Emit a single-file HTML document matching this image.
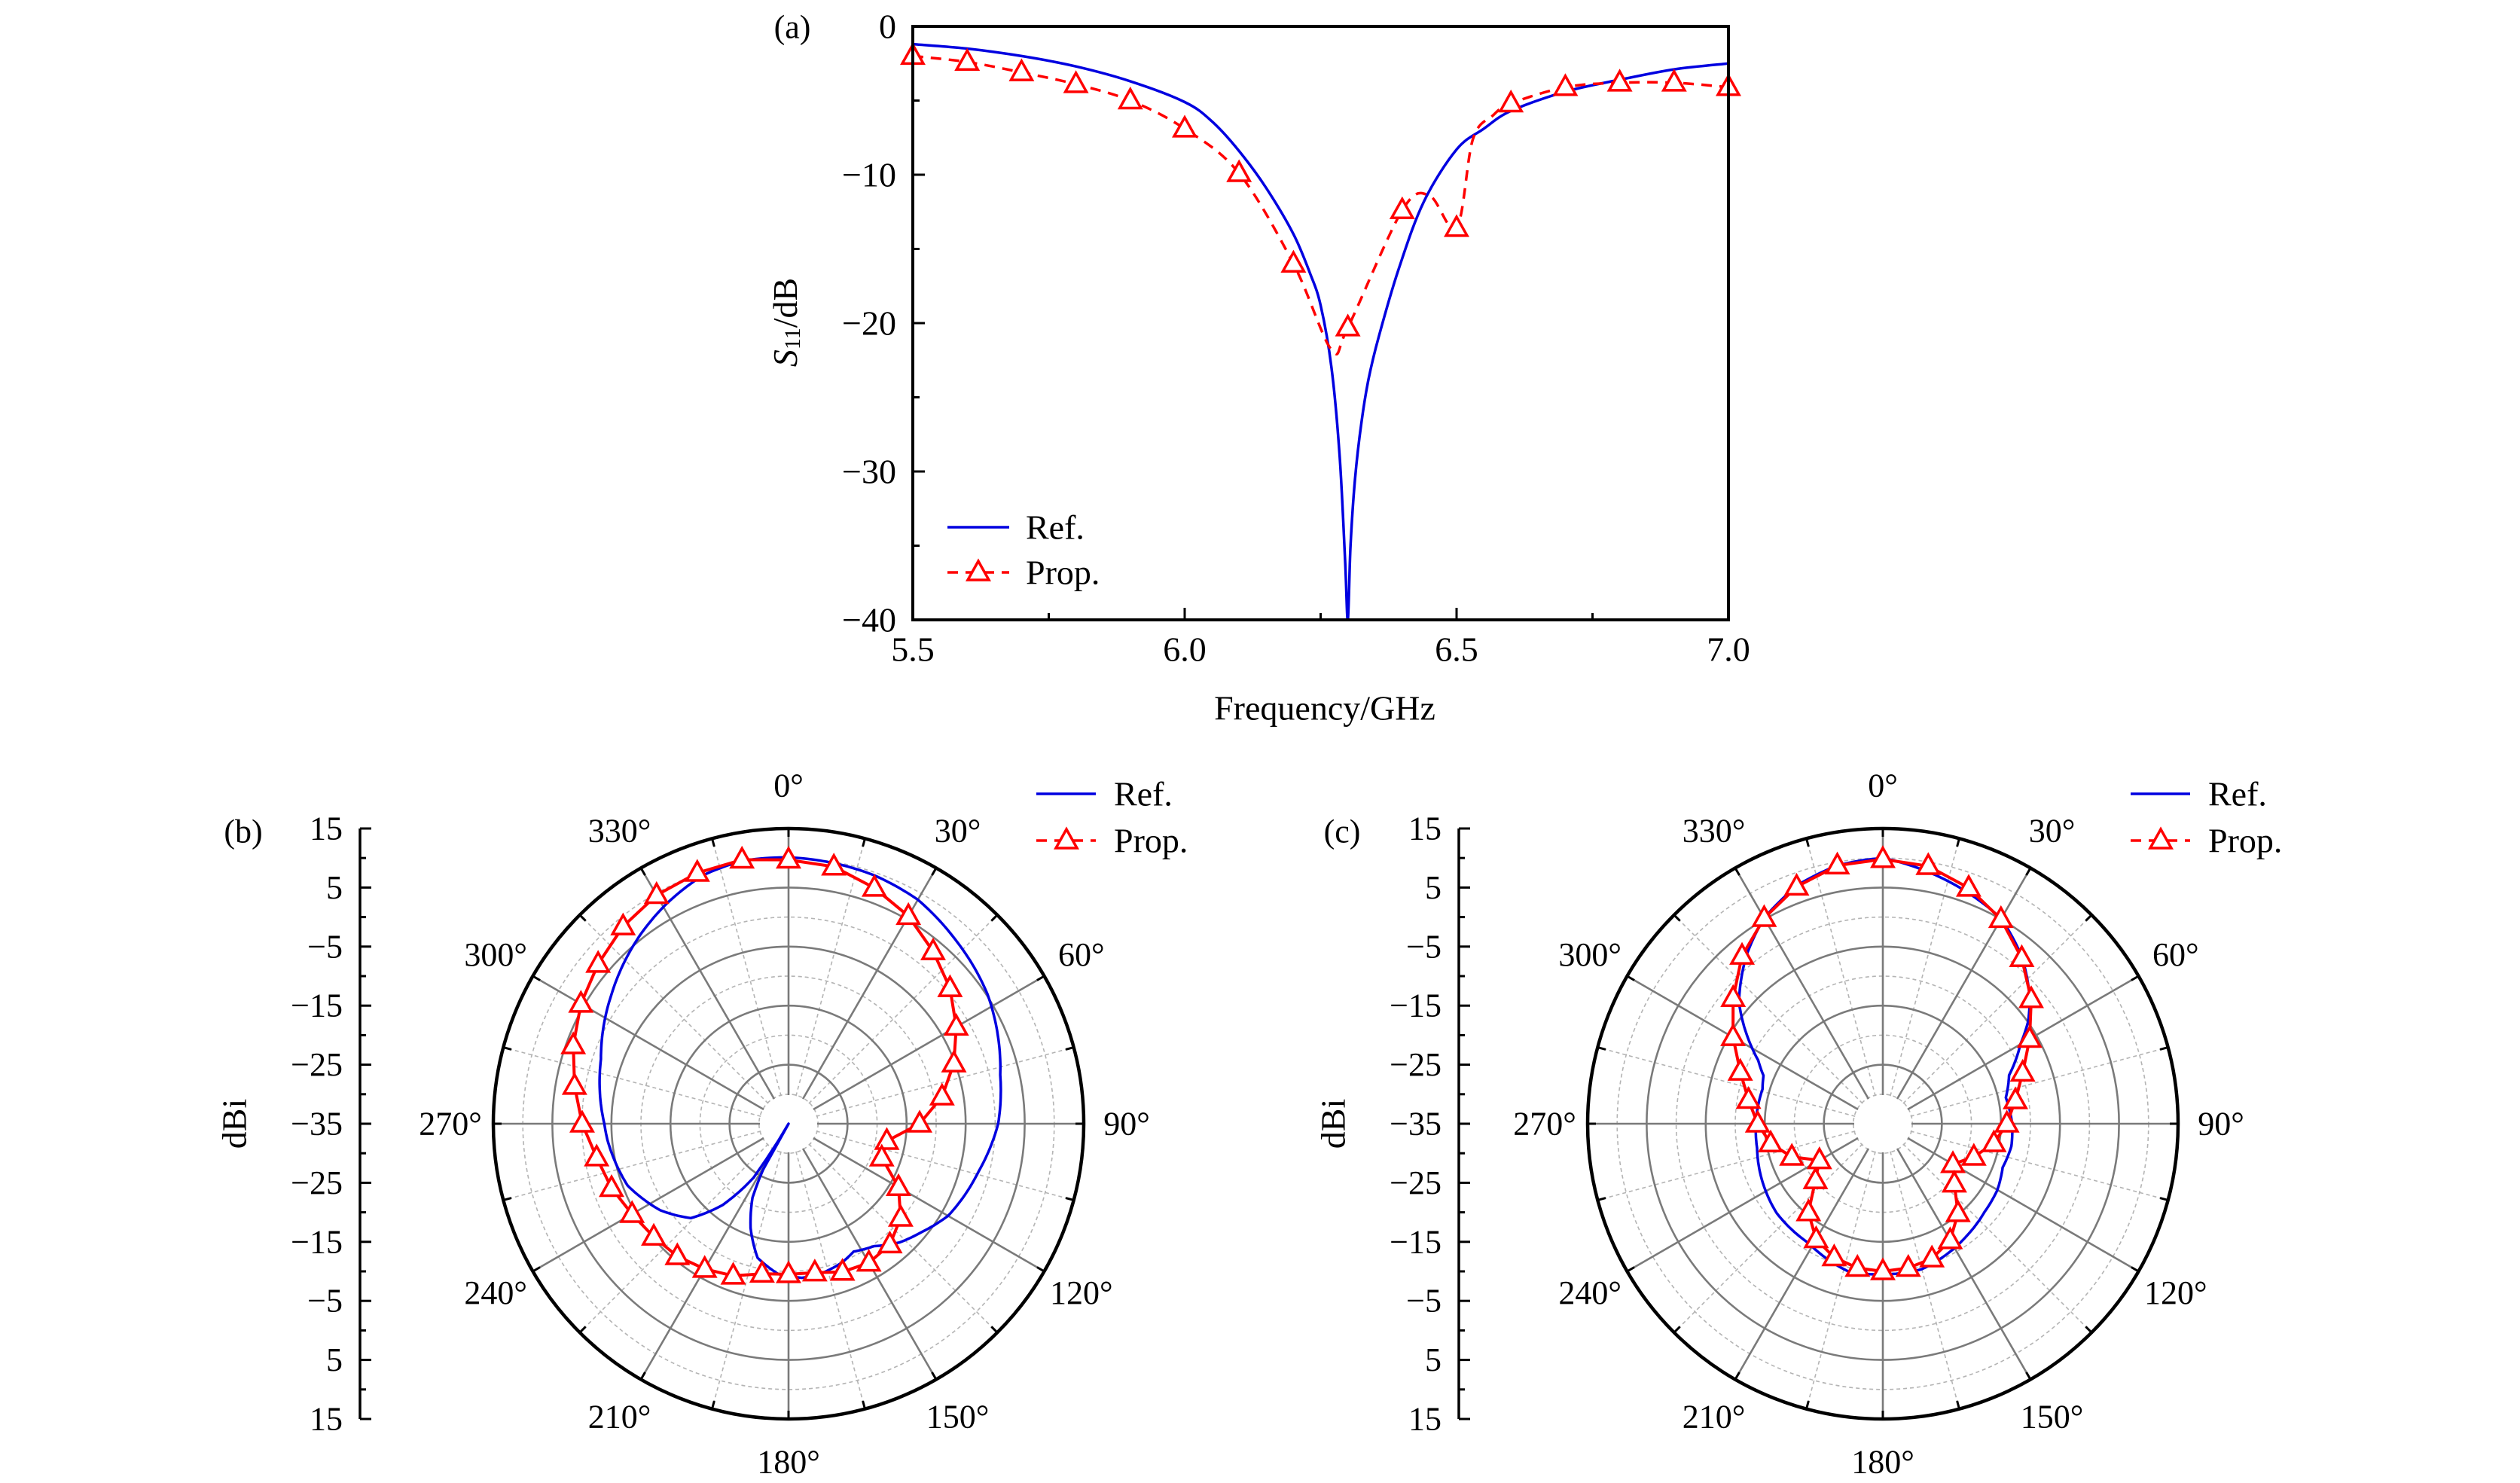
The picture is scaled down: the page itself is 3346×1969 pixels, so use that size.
<!DOCTYPE html>
<html><head><meta charset="utf-8"><style>
html,body{margin:0;padding:0;background:#fff;}
svg{display:block;font-family:"Liberation Serif",serif;}
</style></head><body>
<svg id="fig" width="3346" height="1969" viewBox="0 0 3346 1969" xmlns="http://www.w3.org/2000/svg"></svg>
<script>
// ---- Panel (a) data ----
const refFreq = [5.5,5.6,5.7,5.8,5.9,6.0,6.05,6.1,6.15,6.2,6.23,6.25,6.27,6.285,6.295,6.3,6.305,6.313,6.325,6.338,6.357,6.394,6.44,6.5,6.55,6.6,6.7,6.8,6.9,7.0];
const refS11 = [-1.2,-1.5,-2.0,-2.7,-3.7,-5.1,-6.4,-8.4,-10.9,-14.0,-16.6,-18.8,-23.0,-29,-36,-40,-35,-30.6,-26.7,-23.8,-20.9,-16.3,-11.8,-8.3,-6.9,-5.7,-4.4,-3.6,-2.9,-2.5];
const propLineFreq = [5.5,5.6,5.7,5.8,5.9,6.0,6.1,6.2,6.27,6.3,6.4,6.45,6.5,6.53,6.567,6.6,6.7,6.8,6.9,7.0];
const propLineS11 = [-2.0,-2.4,-3.1,-3.9,-5.0,-6.9,-9.9,-16.0,-21.8,-20.3,-12.4,-11.4,-13.6,-7.6,-6.0,-5.2,-4.1,-3.8,-3.8,-4.1];
const propMarkFreq = [5.5,5.6,5.7,5.8,5.9,6.0,6.1,6.2,6.3,6.4,6.5,6.6,6.7,6.8,6.9,7.0];
const propMarkS11 = [-2.0,-2.4,-3.1,-3.9,-5.0,-6.9,-9.9,-16.0,-20.3,-12.4,-13.6,-5.2,-4.1,-3.8,-3.8,-4.1];
const xTicks = [5.5,6.0,6.5,7.0];
const xTickLabels = ["5.5","6.0","6.5","7.0"];
const yTicks = [0,-10,-20,-30,-40];
const yTickLabels = ["0","\u221210","\u221220","\u221230","\u221240"];

// ---- Panel (b) data ----
const bRefAng = [0,19,30,42,57,77,90,104,120,129,137,145,153,159,167,175,184,193,200,206,209,210,212,213,219,226,236,249,265,270,289,306,322,331,341,350,360];
const bRefDb = [10.1,9.5,8.8,7.1,5.2,1.8,0.5,-1.8,-3.8,-5.9,-7.5,-9.7,-10.7,-9.8,-9.1,-8.8,-9.5,-11.7,-16.2,-21.1,-26.1,-35,-28,-24.1,-17.3,-12,-8.8,-5.8,-4.2,-3.8,-1.4,2.1,5.7,7.6,9.5,10.2,10.1];
const bPropAng = [0,10,20,30,40,50,60,70,80,90,100,110,120,130,140,150,160,170,180,190,200,210,220,230,240,250,260,270,280,290,300,310,320,330,340,350];
const bPropDb = [9.7,9.2,7.5,5.6,3.1,0.7,-2.2,-5.2,-8.6,-12.8,-18.1,-18.2,-13.5,-10.2,-8.3,-7.8,-8.3,-9.4,-9.5,-9.2,-7.6,-6.6,-5.7,-5.2,-4.4,-3.1,-2.0,-0.05,1.8,3.8,5.6,7.1,8.6,9.7,10.2,10.4];

// ---- Panel (c) data ----
const cRefAng = [0,30,40,50,55,60,69,78,90,100,110,120,131,143,150,165,180,193,212,230,248,259,270,286,292,297,302,310,321,330,341,350,360];
const cRefDb = [10.0,5.1,1.7,-2.5,-5,-8.1,-12.1,-13.7,-13.1,-12.9,-13.4,-12.6,-12.2,-11.3,-10.7,-9.5,-9.5,-9.3,-11.2,-11.5,-12.6,-13.3,-13.5,-13.8,-13.2,-11.3,-8.2,-3.2,1.7,5.2,8.0,9.4,10.0];
const cPropAng = [0,10,20,30,40,50,60,70,80,90,100,110,120,130,140,150,160,170,180,190,200,210,220,230,240,250,260,270,280,290,300,310,320,330,340,350];
const cPropDb = [9.8,9.3,7.5,5.0,1.6,-2.2,-6.3,-9.8,-12.2,-14.0,-15.9,-18.6,-21.3,-19.2,-15.2,-12.2,-10.7,-10.2,-10.0,-10.2,-10.9,-12.4,-15.4,-20.1,-22.6,-18.6,-15.7,-13.8,-11.9,-9.3,-5.7,-1.9,2.1,5.2,7.7,9.4];
const rTickLabels = ["15","5","\u22125","\u221215","\u221225","\u221235","\u221225","\u221215","\u22125","5","15"];
const angLabelVals = [0,30,60,90,120,150,180,210,240,270,300,330];

const NS = "http://www.w3.org/2000/svg";
const svg = document.getElementById('fig');
function el(tag, attrs, parent){ const e=document.createElementNS(NS,tag); for(const k in attrs) e.setAttribute(k,attrs[k]); (parent||svg).appendChild(e); return e; }
function txt(s, x, y, size, anchor, parent){ const t=el('text',{x:x,y:y,'font-size':size,'text-anchor':anchor||'middle','dominant-baseline':'central',fill:'#000'},parent); t.textContent=s; return t; }
function tri(x,y,parent){ return el('path',{d:`M${x},${y-15} L${x+14},${y+10} L${x-14},${y+10} Z`,fill:'#fff',stroke:'#f00','stroke-width':3.5,'stroke-linejoin':'miter'},parent); }
function smoothPath(p){
  let d=`M${p[0][0].toFixed(1)},${p[0][1].toFixed(1)}`;
  for(let i=0;i<p.length-1;i++){ const p0=p[Math.max(0,i-1)],p1=p[i],p2=p[i+1],p3=p[Math.min(p.length-1,i+2)];
    const c1=[p1[0]+(p2[0]-p0[0])/6,p1[1]+(p2[1]-p0[1])/6], c2=[p2[0]-(p3[0]-p1[0])/6,p2[1]-(p3[1]-p1[1])/6];
    d+=` C${c1[0].toFixed(1)},${c1[1].toFixed(1)} ${c2[0].toFixed(1)},${c2[1].toFixed(1)} ${p2[0].toFixed(1)},${p2[1].toFixed(1)}`; }
  return d; }

// ================= Panel (a) =================
const A = {l:1212,r:2295,t:35,b:823};
const ax = f => A.l + (f-5.5)/1.5*(A.r-A.l);
const ay = v => A.t + (-v)/40*(A.b-A.t);
const ga = el('g',{});


el('defs',{}).innerHTML='<clipPath id="clipA"><rect x="1212" y="35" width="1083" height="788"/></clipPath>';
for(let i=0;i<=6;i++){ const f=5.5+i*0.25; const x=ax(f); const len=(i%2===0)?16:9;
  const t=el('line',{x1:x,y1:A.b,x2:x,y2:A.b-len,stroke:'#000','stroke-width':3},ga);
    }
for(let i=0;i<=8;i++){ const v=-i*5; const y=ay(v); const len=(i%2===0)?16:9;
  const t=el('line',{x1:A.l,y1:y,x2:A.l+len,y2:y,stroke:'#000','stroke-width':3},ga);
    }
xTicks.forEach((f,i)=>{ const t=txt(xTickLabels[i], ax(f), 862, 46,'middle',ga);
    });
yTicks.forEach((v,i)=>{ const t=txt(yTickLabels[i], 1190, ay(v), 46,'end',ga);
    });
const gClip = el('g',{'clip-path':'url(#clipA)'},ga);
const refPath = el('path',{d:smoothPath(refFreq.map((f,i)=>[ax(f),ay(refS11[i])])),fill:'none',stroke:'#0000e0','stroke-width':3.5,'stroke-linejoin':'round'},gClip);
 
const propPath = el('path',{d:smoothPath(propLineFreq.map((f,i)=>[ax(f),ay(propLineS11[i])])),fill:'none',stroke:'#f00','stroke-width':3.5,'stroke-dasharray':'14 10'},ga);
 
propMarkFreq.forEach((f,i)=>{ const m=tri(ax(f),ay(propMarkS11[i]),ga);
    });
const frame = el('rect',{x:A.l,y:A.t,width:A.r-A.l,height:A.b-A.t,fill:'none',stroke:'#000','stroke-width':4},ga);
 
let t;
t=txt('(a)',1052,36,44,'middle',ga);  
t=txt('Frequency/GHz',1759,940,46,'middle',ga);  
const yt = el('text',{x:0,y:0,'font-size':46,'text-anchor':'middle','dominant-baseline':'central',transform:'translate(1042,428) rotate(-90)'},ga);
yt.innerHTML='<tspan font-style="italic">S</tspan><tspan font-size="30" dy="10">11</tspan><tspan dy="-10">/dB</tspan>';
 
const la = el('g',{},ga);  
el('line',{x1:1258,y1:700,x2:1340,y2:700,stroke:'#0000e0','stroke-width':3.5},la);
t=txt('Ref.',1362,700,46,'start',la);  
el('line',{x1:1258,y1:760,x2:1340,y2:760,stroke:'#f00','stroke-width':3.5,'stroke-dasharray':'14 10'},la);
tri(1299,760,la);
t=txt('Prop.',1362,760,46,'start',la);  

// ================= Polar panels =================
const R = 392;
function polarPanel(cx, cy, axisX, label, refAng, refDb, propAng, propDb, name){
  const g = el('g',{});
  
  
  const rr = db => Math.max(0,(db+35))/50*R;
  const P = (deg,db)=>{ const r=rr(db), a=deg*Math.PI/180; return [cx+r*Math.sin(a), cy-r*Math.cos(a)]; };
  for(let k=0;k<5;k++){ el('circle',{cx:cx,cy:cy,r:(k+0.5)*R/5,fill:'none',stroke:'#b4b4b4','stroke-width':1.6,'stroke-dasharray':'5 4'},g); }
  for(let d=0; d<360; d+=15){ const a=d*Math.PI/180; const solid = d%30===0;
    const ln=el('line',{x1:cx+38*Math.sin(a),y1:cy-38*Math.cos(a),x2:cx+R*Math.sin(a),y2:cy-R*Math.cos(a),stroke:solid?'#7a7a7a':'#b4b4b4','stroke-width':solid?2.6:1.6,'stroke-dasharray':solid?'none':'5 4'},g);
     
  }
  for(let k=1;k<5;k++){ const c=el('circle',{cx:cx,cy:cy,r:k*R/5,fill:'none',stroke:'#7a7a7a','stroke-width':2.6},g);
      }
  el('circle',{cx:cx,cy:cy,r:38,fill:'#fff'},g);
  const oc=el('circle',{cx:cx,cy:cy,r:R,fill:'none',stroke:'#000','stroke-width':4.5},g);
   
  for(let d=0; d<360; d+=15){ const a=d*Math.PI/180;
    el('line',{x1:cx+(R-11)*Math.sin(a),y1:cy-(R-11)*Math.cos(a),x2:cx+R*Math.sin(a),y2:cy-R*Math.cos(a),stroke:'#000','stroke-width':3},g); }
  angLabelVals.forEach(d=>{ const a=d*Math.PI/180; const lt=txt(d+'\u00b0', cx+449*Math.sin(a), cy-449*Math.cos(a), 44,'middle',g);
      });
  const pts=[];
  for(let i=0;i<refAng.length-1;i++){ const a0=refAng[i],a1=refAng[i+1],d0=refDb[i],d1=refDb[i+1];
    const n=Math.max(1,Math.ceil((a1-a0)/1));
    for(let s=0;s<n;s++){ const f=s/n; pts.push(P(a0+(a1-a0)*f, d0+(d1-d0)*f)); } }
  pts.push(P(refAng[refAng.length-1], refDb[refDb.length-1]));
  const rp=el('polyline',{points:pts.map(p=>p[0].toFixed(1)+','+p[1].toFixed(1)).join(' '),fill:'none',stroke:'#0000e0','stroke-width':3.5,'stroke-linejoin':'round'},g);
   
  const pp = propAng.map((d,i)=>P(d,propDb[i])); pp.push(pp[0]);
  const pl=el('polyline',{points:pp.map(p=>p[0].toFixed(1)+','+p[1].toFixed(1)).join(' '),fill:'none',stroke:'#f00','stroke-width':4,'stroke-linejoin':'round'},g);
   
  propAng.forEach((d,i)=>{ const p=P(d,propDb[i]); const m=tri(p[0],p[1],g);
      });
  const top=cy-R, bot=cy+R;
  const al=el('line',{x1:axisX,y1:top,x2:axisX,y2:bot,stroke:'#000','stroke-width':3.5},g);
   
  for(let k=0;k<=20;k++){ const y=top+k*(2*R)/20; const len=(k%2===0)?15:8;
    el('line',{x1:axisX,y1:y,x2:axisX+len,y2:y,stroke:'#000','stroke-width':3},g); }
  rTickLabels.forEach((s,k)=>{ const lt=txt(s, axisX-23, top+k*(2*R)/10, 44,'end',g);
      });
  const dl = el('text',{x:0,y:0,'font-size':46,'text-anchor':'middle','dominant-baseline':'central',transform:`translate(${axisX-167},${cy}) rotate(-90)`},g);
  dl.textContent='dBi';  
  const pl2=txt(label, axisX-155, 1104, 44,'middle',g);
   
  const lg=el('g',{},g);  
  const lx = cx+329;
  el('line',{x1:lx,y1:1054,x2:lx+79,y2:1054,stroke:'#0000e0','stroke-width':3.5},lg);
  let e=txt('Ref.',lx+103,1054,46,'start',lg);  
  el('line',{x1:lx,y1:1116,x2:lx+79,y2:1116,stroke:'#f00','stroke-width':3.5,'stroke-dasharray':'14 10'},lg);
  tri(lx+40,1116,lg);
  e=txt('Prop.',lx+103,1116,46,'start',lg);  
}
polarPanel(1047,1492,478,'(b)',bRefAng,bRefDb,bPropAng,bPropDb,'panel-b-polar-chart');
polarPanel(2500,1492,1937,'(c)',cRefAng,cRefDb,cPropAng,cPropDb,'panel-c-polar-chart');
</script>
</body></html>
